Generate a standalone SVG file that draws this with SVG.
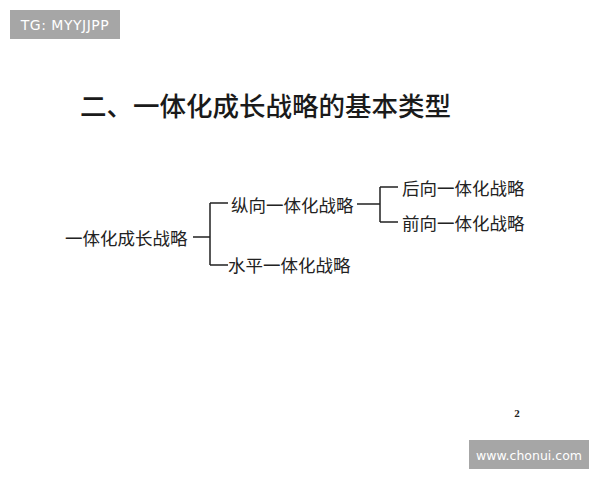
<svg xmlns="http://www.w3.org/2000/svg" width="600" height="480" viewBox="0 0 600 480">
<style>
.t{font-family:"Noto Sans CJK SC","Noto Sans",sans-serif;font-size:17.5px;fill:#222;dominant-baseline:central}
.ln{stroke:#222;stroke-width:1.5;fill:none}
.badge{fill:#a6a6a6}
.bt{font-family:"DejaVu Sans","Liberation Sans",sans-serif;fill:#fff;font-size:12.5px;dominant-baseline:central}
</style>
<rect width="600" height="480" fill="#fff"/>
<g id="badge-tg"><rect class="badge" x="10" y="10" width="110" height="29"/><text class="bt" x="65" y="25" text-anchor="middle" style="font-size:14px;letter-spacing:0.5px">TG: MYYJJPP</text></g>
<g id="title"><text x="80" y="104" font-family="Noto Sans CJK SC,sans-serif" font-size="26.5" font-weight="500" fill="#1a1a1a" dominant-baseline="central">二、一体化成长战略的基本类型</text></g>
<g id="connectors">
<path class="ln" d="M193 237H210M210 203V265M210 203H228M210 265H228"/>
<path class="ln" d="M357 204H380M380 187V222M380 187H398M380 222H398"/>
</g>
<g id="n-root"><text class="t" x="65" y="237">一体化成长战略</text></g>
<g id="n-vertical"><text class="t" x="231" y="204">纵向一体化战略</text></g>
<g id="n-horizontal"><text class="t" x="228" y="264">水平一体化战略</text></g>
<g id="n-backward"><text class="t" x="402" y="187">后向一体化战略</text></g>
<g id="n-forward"><text class="t" x="402" y="222">前向一体化战略</text></g>
<g id="page"><text x="517" y="413" font-family="Liberation Serif,serif" font-size="11" font-weight="bold" fill="#222" text-anchor="middle" dominant-baseline="central">2</text></g>
<g id="badge-url"><rect class="badge" x="469" y="440" width="120" height="29"/><text class="bt" x="529" y="455" text-anchor="middle">www.chonui.com</text></g>
</svg>
